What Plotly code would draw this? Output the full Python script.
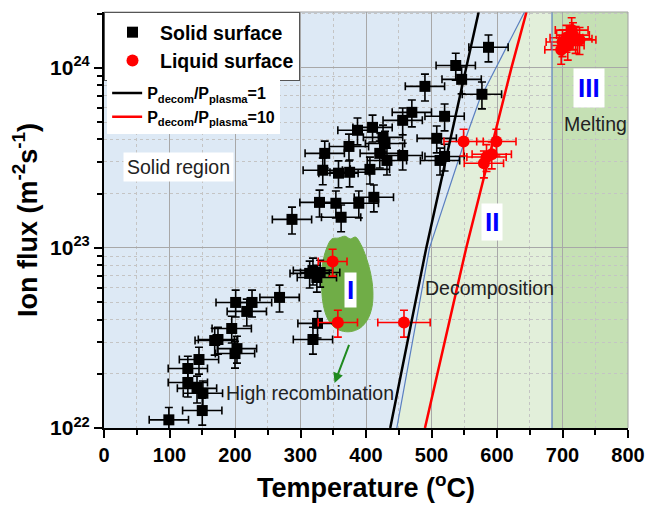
import plotly.graph_objects as go

# ---- measured data ----
solid_T = [99, 150, 151, 142, 128, 128, 145, 169, 174, 195, 200, 203, 201, 226, 218,
           268, 314, 325, 319, 330, 326, 319,
           287, 329, 354, 362, 389, 412, 334, 358, 375, 406, 337, 374, 421, 432,
           456, 513, 520, 508, 387, 410, 426, 429, 456, 470, 520, 490, 577, 546, 537, 587]
solid_flux = [1.11e22, 1.25e22, 1.56e22, 1.66e22, 1.79e22, 2.14e22, 2.40e22, 3.06e22, 3.1e22,
              3.57e22, 2.59e22, 2.76e22, 4.98e22, 4.98e22, 4.44e22,
              5.31e22, 7.22e22, 6.85e22, 7.5e22, 7.3e22, 3.81e22, 3.10e22,
              1.44e23, 1.79e23, 1.77e23, 1.48e23, 1.77e23, 1.91e23, 2.70e23, 2.60e23, 2.63e23,
              2.73e23, 3.35e23, 3.66e23, 3.35e23, 3.06e23,
              3.26e23, 3.06e23, 3.22e23, 4.06e23, 4.50e23, 4.67e23, 4.11e23, 3.80e23, 5.11e23,
              5.66e23, 5.38e23, 7.89e23, 7.13e23, 8.63e23, 1.03e24, 1.30e24]
solid_T_err = 30

liquid_T = [349, 357, 458, 549, 599, 592, 580, 584,
            700, 716, 726, 708, 698, 714, 720, 706]
liquid_flux = [8.4e22, 3.85e22, 3.85e22, 3.9e23, 3.9e23, 3.31e23, 2.95e23, 3.2e23,
               1.39e24, 1.52e24, 1.43e24, 1.33e24, 1.26e24, 1.62e24, 1.45e24, 1.47e24]
liquid_T_err = [22, 30, 40, 30, 30, 30, 30, 30,
                25, 25, 25, 25, 25, 25, 25, 25]
flux_err_pct = 17

flux_top = 10 ** 24.31

ratio1_T = [437, 492, 553, 572]
ratio1_flux = [1e22, 1e23, 1e24, flux_top]
ratio10_T = [490, 553, 622, 645]
ratio10_flux = [1e22, 1e23, 1e24, flux_top]

boundary_T = [447, 497, 551, 573, 642]
boundary_flux = [1e22, 1e23, 3.95e23, 6.6e23, flux_top]
melting_T = 684

# outline of the high-recombination zone (region I)
blob_T = [368, 358, 348, 340, 334.5, 332, 332.5, 335, 341, 350, 362, 376,
          391, 402, 409, 410.5, 407, 400, 392, 384, 376]
blob_logflux = [23.065, 23.055, 23.05, 23.0, 22.93, 22.85, 22.76, 22.68, 22.61, 22.565,
                22.54, 22.535, 22.555, 22.6, 22.67, 22.76, 22.86, 22.95, 23.02, 23.06, 23.05]

y_major = [1e22, 1e23, 1e24]
y_major_text = ["10<sup>22</sup>", "10<sup>23</sup>", "10<sup>24</sup>"]
y_minor = [m * 10.0 ** e for e in (22, 23) for m in range(2, 10)] + [2e24]

FONT = "Arial, Liberation Sans, sans-serif"

fig = go.Figure()

# region I blob
fig.add_trace(go.Scatter(
    x=blob_T + [blob_T[0]], y=[10 ** v for v in blob_logflux] + [10 ** blob_logflux[0]],
    mode="lines", fill="toself", fillcolor="#70ad47",
    line=dict(color="#70ad47", width=1, shape="spline", smoothing=1),
    hoverinfo="skip", showlegend=False))

# solid/decomposition boundary
fig.add_trace(go.Scatter(x=boundary_T, y=boundary_flux, mode="lines",
                         line=dict(color="#5a7fc0", width=1.2), showlegend=False, hoverinfo="skip"))

fig.add_trace(go.Scatter(
    x=solid_T, y=solid_flux, mode="markers", name="Solid surface",
    marker=dict(symbol="square", color="black", size=11),
    error_x=dict(type="constant", value=solid_T_err, color="black", thickness=1.6, width=4),
    error_y=dict(type="percent", value=flux_err_pct, color="black", thickness=1.6, width=4),
    legend="legend"))

fig.add_trace(go.Scatter(
    x=liquid_T, y=liquid_flux, mode="markers", name="Liquid surface",
    marker=dict(symbol="circle", color="red", size=12),
    error_x=dict(type="data", array=liquid_T_err, color="red", thickness=1.6, width=4),
    error_y=dict(type="percent", value=flux_err_pct, color="red", thickness=1.6, width=4),
    legend="legend"))

fig.add_trace(go.Scatter(
    x=ratio1_T, y=ratio1_flux, mode="lines",
    name="P<sub>decom</sub>/P<sub>plasma</sub>=1",
    line=dict(color="black", width=2.5), legend="legend2"))
fig.add_trace(go.Scatter(
    x=ratio10_T, y=ratio10_flux, mode="lines",
    name="P<sub>decom</sub>/P<sub>plasma</sub>=10",
    line=dict(color="red", width=2.5), legend="legend2"))

# background regions
decomp_path = "M " + " L ".join(f"{t},{f}" for t, f in zip(boundary_T, boundary_flux))
decomp_path += f" L {melting_T},{flux_top} L {melting_T},1e22 Z"
shapes = [
    dict(type="path", path=decomp_path, xref="x", yref="y", fillcolor="#e2efda",
         line=dict(width=0), layer="below"),
    dict(type="rect", xref="x", yref="paper", x0=melting_T, x1=800, y0=0, y1=1,
         fillcolor="#c5e0b4", line=dict(width=0), layer="below"),
    dict(type="line", xref="x", yref="paper", x0=melting_T, x1=melting_T, y0=0, y1=1,
         line=dict(color="#5a7fc0", width=1.2)),
    dict(type="line", xref="paper", yref="paper", x0=0, x1=1, y0=1, y1=1,
         line=dict(color="#a0a0a0", width=1)),
    dict(type="line", xref="paper", yref="paper", x0=1, x1=1, y0=0, y1=1,
         line=dict(color="#a0a0a0", width=1)),
]

text_font = dict(family=FONT, size=19.5, color="#222222")
roman_font = dict(family=FONT, size=26, color="#0000ff", weight="bold")
annotations = [
    dict(x=113, y=23.447, text="Solid region", showarrow=False, font=text_font,
         bgcolor="white", borderpad=3),
    dict(x=314, y=22.197, text="High recombination", showarrow=False, font=text_font),
    dict(x=589, y=22.775, text="Decomposition", showarrow=False, font=text_font),
    dict(x=750, y=23.686, text="Melting", showarrow=False, font=text_font),
    dict(x=377, y=22.764, text="I", showarrow=False, font=roman_font, bgcolor="white", borderpad=2),
    dict(x=593, y=23.142, text="II", showarrow=False, font=roman_font, bgcolor="white", borderpad=3),
    dict(x=741, y=23.89, text="III", showarrow=False, font=roman_font, bgcolor="white", borderpad=4),
    dict(x=352, y=22.25, ax=375, ay=22.47, axref="x", ayref="y", xref="x", yref="y",
         text="", showarrow=True, arrowhead=2, arrowsize=1, arrowwidth=2, arrowcolor="#1f8a1f"),
]

fig.update_layout(
    width=660, height=510,
    margin=dict(l=104, r=32, t=12, b=82),
    paper_bgcolor="white", plot_bgcolor="#dde9f5",
    font=dict(family=FONT, color="black"),
    shapes=shapes, annotations=annotations,
    legend=dict(x=0, y=1, xanchor="left", yanchor="top", bgcolor="white",
                bordercolor="#555555", borderwidth=1, itemwidth=45,
                font=dict(family=FONT, size=19.5, color="black", weight="bold"),
                tracegroupgap=0),
    legend2=dict(x=0.006, y=0.846, xanchor="left", yanchor="top", bgcolor="white",
                 borderwidth=0, font=dict(family=FONT, size=16, color="black", weight="bold"),
                 tracegroupgap=0),
    xaxis=dict(range=[0, 800], dtick=100, showline=True, linecolor="black", linewidth=2,
               ticks="outside", ticklen=8, tickwidth=2, tickcolor="black",
               tickfont=dict(family=FONT, size=20, color="black", weight="bold"),
               showgrid=True, gridcolor="#a8a8a8", gridwidth=1, zeroline=False,
               minor=dict(dtick=50, ticks="outside", ticklen=5, tickwidth=2, tickcolor="black",
                          showgrid=True, gridcolor="#c4c4c4", griddash="dot", gridwidth=1),
               title=dict(text="Temperature (<sup>o</sup>C)", standoff=13,
                          font=dict(family=FONT, size=27, color="black", weight="bold"))),
    yaxis=dict(type="log", range=[22, 24.31], showline=True, linecolor="black", linewidth=2,
               tickmode="array", tickvals=y_major, ticktext=y_major_text,
               ticks="outside", ticklen=8, tickwidth=2, tickcolor="black",
               tickfont=dict(family=FONT, size=21, color="black", weight="bold"),
               showgrid=True, gridcolor="#a8a8a8", gridwidth=1, zeroline=False,
               minor=dict(tickmode="array", tickvals=y_minor, ticks="outside", ticklen=5,
                          tickwidth=2, tickcolor="black",
                          showgrid=True, gridcolor="#c4c4c4", griddash="dot", gridwidth=1),
               title=dict(text="Ion flux (m<sup>-2</sup>s<sup>-1</sup>)", standoff=5,
                          font=dict(family=FONT, size=27, color="black", weight="bold"))),
)

fig.write_html("out.html")
